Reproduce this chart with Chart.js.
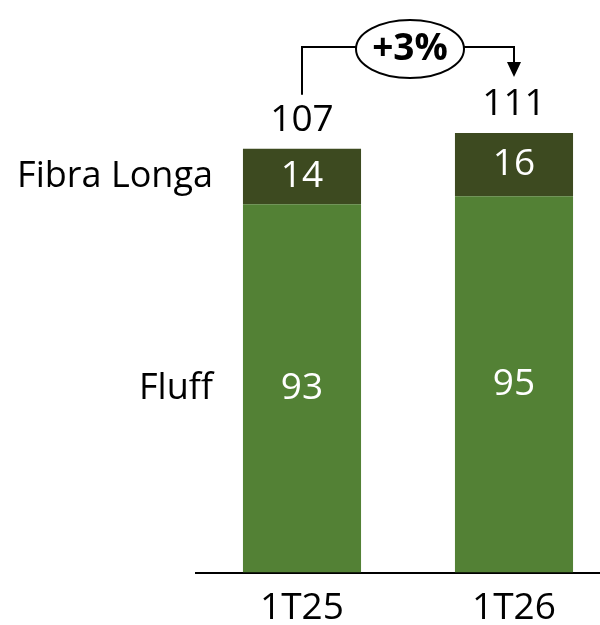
<!DOCTYPE html>
<html lang="pt">
<head>
  <meta charset="UTF-8" />
  <title>Fluff e Fibra Longa – 1T25 vs 1T26</title>
  <script src="https://cdn.jsdelivr.net/npm/chart.js"></script>
  <style>
    body {
      margin: 0;
      background: #fff;
      overflow: hidden;
    }
    .wrap {
      width: 600px;
      height: 625px;
      overflow: hidden;
    }
    canvas {
      display: block;
    }
  </style>
</head>
<body>
  <div class="wrap">
    <!-- canvas is a bit larger than the frame; the overflow is clipped -->
    <canvas id="volChart" width="624" height="645"></canvas>
  </div>

  <script>
    const periods = ['1T25', '1T26'];
    const seriesNames = ['Fluff', 'Fibra Longa'];
    const fluff = [93, 95];
    const fibraLonga = [14, 16];
    const growthLabel = '+3%';

    const totals = periods.map((p, i) => fluff[i] + fibraLonga[i]);
    const FONT = '"Open Sans", "Noto Sans", sans-serif';

    // value labels, series names on the left, and the +3% bracket
    const labelsPlugin = {
      id: 'labels',
      afterDatasetsDraw(chart) {
        const ctx = chart.ctx;
        const y = chart.scales.y;
        ctx.save();
        ctx.textBaseline = 'middle';

        chart.data.datasets.forEach((ds, di) => {
          const meta = chart.getDatasetMeta(di);
          meta.data.forEach((bar, i) => {
            const mid = (bar.y + bar.base) / 2;
            ctx.font = '37px ' + FONT;
            ctx.fillStyle = '#fff';
            ctx.textAlign = 'center';
            ctx.fillText(ds.data[i], bar.x, mid);
            if (i === 0) {
              ctx.font = '36px ' + FONT;
              ctx.fillStyle = '#000';
              ctx.textAlign = 'right';
              ctx.fillText(ds.label, bar.x - bar.width / 2 - 30, mid);
            }
          });
        });

        // totals above the bars
        const topMeta = chart.getDatasetMeta(chart.data.datasets.length - 1);
        ctx.font = '37px ' + FONT;
        ctx.fillStyle = '#000';
        ctx.textAlign = 'center';
        topMeta.data.forEach((bar, i) => {
          ctx.fillText(totals[i], bar.x, y.getPixelForValue(totals[i]) - 28);
        });

        // bracket with ellipse
        const b0 = topMeta.data[0], b1 = topMeta.data[1];
        const lineY = 47;
        const x0 = b0.x, x1 = b1.x;
        const startY = y.getPixelForValue(totals[0]) - 54;
        const tipY = y.getPixelForValue(totals[1]) - 56;
        const cx = (x0 + x1) / 2 + 2;
        const rx = 54, ry = 29;

        ctx.strokeStyle = '#000';
        ctx.lineWidth = 2;
        ctx.beginPath();
        ctx.moveTo(x0, startY);
        ctx.lineTo(x0, lineY);
        ctx.lineTo(cx - rx, lineY);
        ctx.moveTo(cx + rx, lineY);
        ctx.lineTo(x1, lineY);
        ctx.lineTo(x1, tipY - 14);
        ctx.stroke();

        ctx.fillStyle = '#000';
        ctx.beginPath();
        ctx.moveTo(x1 - 7, tipY - 15);
        ctx.lineTo(x1 + 7, tipY - 15);
        ctx.lineTo(x1, tipY);
        ctx.closePath();
        ctx.fill();

        ctx.beginPath();
        ctx.ellipse(cx, lineY + 2, rx, ry, 0, 0, Math.PI * 2);
        ctx.fillStyle = '#fff';
        ctx.fill();
        ctx.stroke();

        ctx.fillStyle = '#000';
        ctx.font = 'bold 37px ' + FONT;
        ctx.textAlign = 'center';
        ctx.fillText(growthLabel, cx, lineY + 2);
        ctx.restore();
      }
    };

    new Chart(document.getElementById('volChart'), {
      type: 'bar',
      data: {
        labels: periods,
        datasets: [
          { label: seriesNames[0], data: fluff, backgroundColor: '#538135' },
          { label: seriesNames[1], data: fibraLonga, backgroundColor: '#3d4a20' }
        ]
      },
      options: {
        responsive: false,
        animation: false,
        events: [],
        layout: { padding: { left: 196, right: 4, top: 18, bottom: 0 } },
        datasets: { bar: { barPercentage: 0.557, categoryPercentage: 1 } },
        plugins: {
          legend: { display: false },
          tooltip: { enabled: false }
        },
        scales: {
          x: {
            stacked: true,
            grid: { display: false, drawTicks: false },
            border: { display: true, color: '#000', width: 2 },
            ticks: { color: '#000', padding: 14, font: { family: FONT, size: 37, lineHeight: 1.2 } }
          },
          y: {
            stacked: true,
            display: false,
            min: 0,
            max: 140
          }
        }
      },
      plugins: [labelsPlugin]
    });
  </script>
</body>
</html>
